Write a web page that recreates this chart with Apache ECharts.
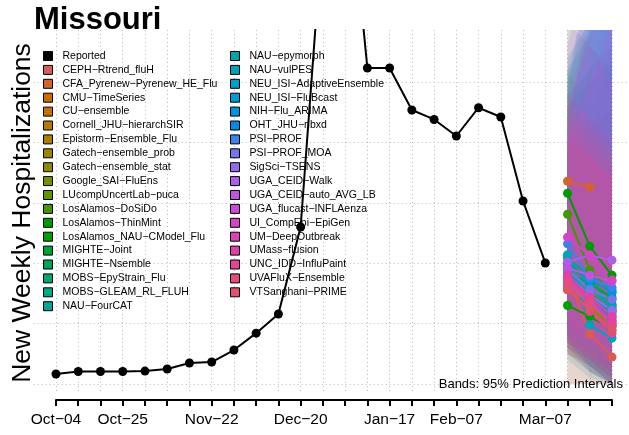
<!DOCTYPE html>
<html>
<head>
<meta charset="utf-8">
<script src="https://cdn.jsdelivr.net/npm/echarts@6/dist/echarts.min.js"></script>
<style>
  html, body { margin: 0; padding: 0; background: #fff; }
  #chart { width: 629px; height: 435px; }
</style>
</head>
<body>
<div id="chart"></div>
<script>
var weeks = ['Oct\u221204', 'Oct\u221211', 'Oct\u221218', 'Oct\u221225', 'Nov\u221201', 'Nov\u221208', 'Nov\u221215',
  'Nov\u221222', 'Nov\u221229', 'Dec\u221206', 'Dec\u221213', 'Dec\u221220', 'Dec\u221227', 'Jan\u221203',
  'Jan\u221210', 'Jan\u221217', 'Jan\u221224', 'Jan\u221231', 'Feb\u221207', 'Feb\u221214', 'Feb\u221221',
  'Feb\u221228', 'Mar\u221207', 'Mar\u221214', 'Mar\u221221', 'Mar\u221228'];
var tickLabels = ['Oct\u221204', 'Oct\u221225', 'Nov\u221222', 'Dec\u221220', 'Jan\u221217', 'Feb\u221207', 'Mar\u221207'];

// reported weekly hospitalizations, Oct-04 .. Mar-07
var reported = [83, 103, 103, 103, 107, 124, 174, 182, 281, 421, 579, 1300, 3780, 4500,
  2616, 2616, 2268, 2190, 2053, 2287, 2210, 1515, 1002];

var models = ['CEPH\u2212Rtrend_fluH', 'CFA_Pyrenew\u2212Pyrenew_HE_Flu', 'CMU\u2212TimeSeries', 'CU\u2212ensemble',
  'Cornell_JHU\u2212hierarchSIR', 'Epistorm\u2212Ensemble_Flu', 'Gatech\u2212ensemble_prob', 'Gatech\u2212ensemble_stat',
  'Google_SAI\u2212FluEns', 'LUcompUncertLab\u2212puca', 'LosAlamos\u2212DoSiDo', 'LosAlamos\u2212ThinMint',
  'LosAlamos_NAU\u2212CModel_Flu', 'MIGHTE\u2212Joint', 'MIGHTE\u2212Nsemble', 'MOBS\u2212EpyStrain_Flu',
  'MOBS\u2212GLEAM_RL_FLUH', 'NAU\u2212FourCAT', 'NAU\u2212epymorph', 'NAU\u2212vulPES',
  'NEU_ISI\u2212AdaptiveEnsemble', 'NEU_ISI\u2212FluBcast', 'NIH\u2212Flu_ARIMA', 'OHT_JHU\u2212nbxd',
  'PSI\u2212PROF', 'PSI\u2212PROF_MOA', 'SigSci\u2212TSENS', 'UGA_CEID\u2212Walk', 'UGA_CEID\u2212auto_AVG_LB',
  'UGA_flucast\u2212INFLAenza', 'UI_CompEpi\u2212EpiGen', 'UM\u2212DeepOutbreak', 'UMass\u2212flusion',
  'UNC_IDD\u2212InfluPaint', 'UVAFluX\u2212Ensemble', 'VTSanghani\u2212PRIME'];

// point forecasts for Mar-14, Mar-21, Mar-28
var pointH1 = [900, 1678, 860, 950, 820, 900, 880, 840, 780, 960, 1405, 1579, 650, 920, 880, 1000, 1040, 1060,
  1000, 1070, 940, 900, 980, 860, 1160, 950, 890, 1010, 960, 830, 1215, 870, 900, 800, 850, 780];
var pointH2 = [413, 1630, 700, 780, 640, 720, 760, 690, 620, 860, 942, 1140, 560, 830, 760, 860, 900, 800,
  700, 488, 800, 740, 860, 700, 880, 780, 740, 1066, 900, 660, 1066, 700, 720, 600, 680, 620];
var pointH3 = [223, null, 560, 620, 480, 600, 650, 520, 500, 700, 760, 900, 450, 720, 600, 660, 780, 640,
  480, 380, 620, 580, 760, 540, 800, 700, 610, 1025, 850, 500, 860, 520, 560, 420, 480, 440];

// 95% prediction interval bounds
var lowerH1 = [450, 1100, 350, 400, 350, 400, 300, 350, 250, 0, 600, 700, 250, 400, 350, 350, 400, 300,
  200, 400, 400, 350, 450, 300, 500, 400, 350, 350, 450, 250, 500, 300, 350, 0, 300, 250];
var lowerH2 = [150, 900, 200, 250, 150, 250, 150, 200, 100, 0, 300, 400, 150, 250, 200, 150, 250, 100,
  50, 100, 250, 200, 300, 150, 300, 200, 150, 250, 350, 100, 350, 200, 250, 0, 200, 150];
var lowerH3 = [0, null, 50, 100, 0, 100, 50, 50, 0, 0, 100, 150, 50, 100, 50, 0, 100, 0,
  0, 0, 100, 50, 200, 0, 150, 50, 0, 150, 250, 0, 200, 100, 100, 0, 50, 0];
var upperH1 = [1600, 2300, 1600, 1900, 1500, 1800, 1900, 1600, 1800, 2400, 2600, 3000, 1400, 2400, 2300, 2600,
  2700, 2500, 2600, 2000, 1900, 2000, 2200, 2200, 2500, 2400, 2100, 2800, 2300, 2000, 3200, 2200, 2100, 2400, 2000, 2300];
var upperH2 = [1200, 2600, 1700, 2100, 1400, 1900, 2100, 1600, 2200, 3000, 2300, 2800, 1400, 2600, 2500, 2900,
  3000, 3100, 3300, 1700, 2300, 2600, 3000, 2900, 3300, 3600, 3200, 3500, 2900, 2500, 2800, 2000, 1900, 2200, 1900, 2100];
var upperH3 = [1000, null, 1800, 2300, 1300, 2000, 2400, 1500, 2700, 3600, 2100, 2600, 1400, 2800, 2700, 3200,
  3300, 3700, 4000, 1500, 2800, 3200, 3800, 3600, 4200, 4600, 4200, 4300, 3500, 3000, 2500, 1800, 1700, 2000, 1700, 1900];

var FONT = 'Liberation Sans, Arial, sans-serif';

// hcl -> hex, like R's hue palette
function hcl(h, c, l) {
  var hr = h * Math.PI / 180;
  var U = c * Math.cos(hr), V = c * Math.sin(hr);
  var Y = l > 8 ? Math.pow((l + 16) / 116, 3) : l / 903.3;
  var u = U / (13 * l) + 0.1978398, v = V / (13 * l) + 0.4683363;
  var X = 9 * Y * u / (4 * v);
  var Z = Y * (12 - 3 * u - 20 * v) / (4 * v);
  var rgb = [3.2404542 * X - 1.5371385 * Y - 0.4985314 * Z,
    -0.9692660 * X + 1.8760108 * Y + 0.0415560 * Z,
    0.0556434 * X - 0.2040259 * Y + 1.0572252 * Z];
  return '#' + rgb.map(function (x) {
    x = x <= 0.0031308 ? 12.92 * x : 1.055 * Math.pow(x, 1 / 2.4) - 0.055;
    x = Math.round(Math.max(0, Math.min(1, x)) * 255);
    return (x < 16 ? '0' : '') + x.toString(16);
  }).join('');
}

var colors = models.map(function (m, i) { return hcl(15 + 360 * i / 36, 100, 55); });

var chart = echarts.init(document.getElementById('chart'));

function bandItem(params, api) {
  var i = api.value(0);
  var up = [upperH1[i], upperH2[i], upperH3[i]];
  var lo = [lowerH1[i], lowerH2[i], lowerH3[i]];
  var pts = [];
  for (var k = 0; k < 3; k++) {
    if (up[k] != null) pts.push(api.coord([23 + k, up[k]]));
  }
  for (var k = 2; k >= 0; k--) {
    if (lo[k] != null) pts.push(api.coord([23 + k, lo[k]]));
  }
  return {
    type: 'polygon',
    shape: { points: pts },
    style: { fill: colors[i], opacity: 0.15 }
  };
}

var series = [];
series.push({
  type: 'custom',
  name: 'bands',
  xAxisIndex: 0,
  yAxisIndex: 0,
  clip: true,
  silent: true,
  renderItem: bandItem,
  data: models.map(function (m, i) { return [i]; }),
  z: 1
});

series.push({
  type: 'line',
  name: 'Reported',
  xAxisIndex: 0,
  yAxisIndex: 0,
  color: '#000',
  lineStyle: { width: 2, color: '#000' },
  symbol: 'circle',
  symbolSize: 9,
  clip: true,
  data: reported.map(function (v, i) { return [i, v]; }),
  z: 3
});

for (var i = 0; i < models.length; i++) {
  var d = [];
  [pointH1[i], pointH2[i], pointH3[i]].forEach(function (v, k) {
    if (v != null) d.push([23 + k, v]);
  });
  series.push({
    type: 'line',
    name: models[i],
    xAxisIndex: 0,
    yAxisIndex: 0,
    color: colors[i],
    lineStyle: { width: 2 },
    symbol: 'circle',
    symbolSize: 9,
    clip: true,
    data: d,
    z: 3
  });
}

var dotted = { color: '#bdbdbd', width: 1, type: [1, 3] };
var legendBase = {
  orient: 'vertical',
  top: 50,
  padding: 0,
  icon: 'rect',
  itemWidth: 9,
  itemHeight: 9,
  itemGap: 1.9,
  selectedMode: false,
  itemStyle: { borderColor: '#000', borderWidth: 1 },
  textStyle: { fontSize: 10.5, color: '#000', fontFamily: FONT, lineHeight: 12, padding: [0, 0, 0, 5] }
};

// the plot region runs one week past Mar-28 (off the canvas), so the data grid
// stops at the canvas edge and its x max is cut to match (22.24 px per week)
var option = {
  animation: false,
  backgroundColor: '#fff',
  title: {
    text: 'Missouri',
    left: 34,
    top: 5,
    padding: 0,
    textStyle: { fontSize: 31, fontWeight: 'bold', color: '#000', fontFamily: FONT }
  },
  legend: [
    Object.assign({}, legendBase, { left: 43, data: ['Reported'].concat(models.slice(0, 18)) }),
    Object.assign({}, legendBase, { left: 230, data: models.slice(18) })
  ],
  grid: [
    { left: 33.76, right: 0, top: 30, bottom: 41 },
    { left: 33.76, right: 0, top: 82, bottom: 51 },
    { left: 56, right: 17, top: 30, bottom: 41 }
  ],
  xAxis: [
    { gridIndex: 0, type: 'value', min: -1, max: 25.764, show: false },
    { gridIndex: 1, type: 'value', min: 0, max: 1, show: false },
    {
      gridIndex: 2, type: 'value', min: 0, max: 25, interval: 1, offset: 6,
      axisLine: { show: true, onZero: false, lineStyle: { color: '#000', width: 2 } },
      axisTick: { show: true, length: 6, lineStyle: { color: '#000', width: 2 } },
      splitLine: { show: true, lineStyle: dotted },
      axisLabel: {
        margin: 12, fontSize: 15.5, color: '#000', fontFamily: FONT,
        showMinLabel: true, showMaxLabel: true, hideOverlap: false,
        formatter: function (v) {
          var w = weeks[Math.round(v)];
          return tickLabels.indexOf(w) >= 0 ? w : '';
        }
      }
    }
  ],
  yAxis: [
    { gridIndex: 0, type: 'value', min: -82.8, max: 2930.5, show: false },
    {
      gridIndex: 1, type: 'value', min: 0, max: 2500, interval: 500,
      axisLine: { show: false }, axisTick: { show: false }, axisLabel: { show: false },
      splitLine: { show: true, lineStyle: dotted }
    },
    { gridIndex: 2, type: 'value', min: 0, max: 1, show: false }
  ],
  graphic: [
    {
      type: 'text', x: 23, y: 213, rotation: Math.PI / 2,
      style: { text: 'New Weekly Hospitalizations', fontSize: 26.5, fontFamily: FONT, fill: '#000',
        textAlign: 'center', textVerticalAlign: 'middle' }
    },
    {
      type: 'text', x: 623, y: 384, z: 10,
      style: { text: 'Bands: 95% Prediction Intervals', fontSize: 13, fontFamily: FONT, fill: '#000',
        textAlign: 'right', textVerticalAlign: 'middle' }
    }
  ],
  series: series
};

chart.setOption(option);
</script>
</body>
</html>
